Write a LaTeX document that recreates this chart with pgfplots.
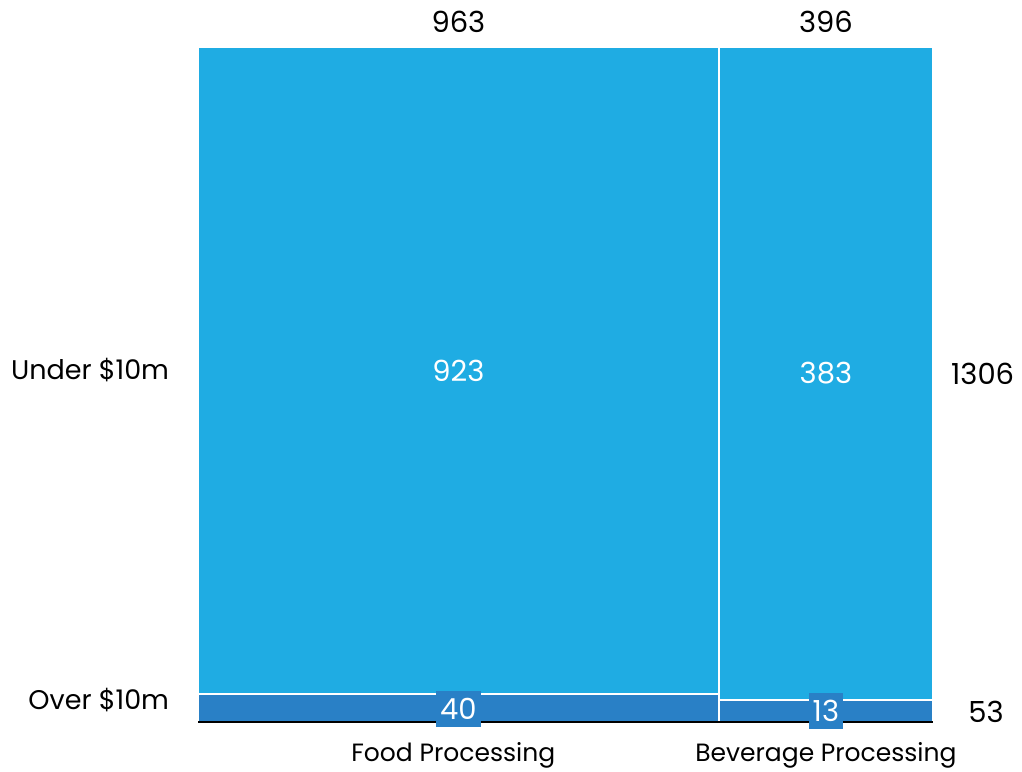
\documentclass[border=0pt]{standalone}
\usepackage{fontspec}
\setmainfont{Poppins}
\usepackage{pgfplots}
\pgfplotsset{compat=1.18}
\definecolor{light}{RGB}{31,172,227}
\definecolor{dark}{RGB}{41,128,198}
\newcommand{\txt}{\fontsize{27pt}{32pt}\selectfont}
\newcommand{\cat}{\fontsize{25pt}{30pt}\selectfont}
\newcommand{\num}{\fontsize{29pt}{34pt}\selectfont}
\begin{document}
\begin{tikzpicture}
\useasboundingbox (0,0) rectangle (1022pt,771pt);
\begin{axis}[
  at={(198pt,49pt)}, anchor=south west,
  scale only axis, width=735pt, height=675pt,
  xmin=0, xmax=1359, ymin=0, ymax=100,
  hide axis, clip=false,
]
% Food Processing (963): over 40, under 923
\addplot[fill=dark, draw=white, line width=1.5pt] coordinates {(0,0) (963,0) (963,4.154) (0,4.154)} -- cycle;
\addplot[fill=light, draw=white, line width=1.5pt] coordinates {(0,4.154) (963,4.154) (963,100) (0,100)} -- cycle;
% Beverage Processing (396): over 13, under 383
\addplot[fill=dark, draw=white, line width=1.5pt] coordinates {(963,0) (1359,0) (1359,3.283) (963,3.283)} -- cycle;
\addplot[fill=light, draw=white, line width=1.5pt] coordinates {(963,3.283) (1359,3.283) (1359,100) (963,100)} -- cycle;
\draw[black, line width=1.2pt] (axis cs:0,0) -- (axis cs:1359,0);
% value labels
\node[white, font=\num] at (axis cs:481.5,52.08) {923};
\node[white, font=\num] at (axis cs:1161,51.64) {383};
\node[white, font=\num, fill=dark, inner xsep=4pt, minimum height=36pt, inner ysep=0pt] at (axis cs:481.5,2.0) {40};
\node[white, font=\num, fill=dark, inner xsep=4pt, minimum height=36pt, inner ysep=0pt] at (axis cs:1161,1.6) {13};
% totals
\node[font=\num] at (axis cs:481.5,103.7) {963};
\node[font=\num] at (axis cs:1161,103.7) {396};
\node[font=\num, anchor=west] at (axis cs:1386,51.64) {1306};
\node[font=\num, anchor=west] at (axis cs:1418,1.5) {53};
% row labels
\node[font=\txt, anchor=east] at (axis cs:-47,52.08) {Under \$10m};
\node[font=\txt, anchor=east] at (axis cs:-47,3.3) {Over \$10m};
% category labels
\node[font=\cat, anchor=base] at (axis cs:472,-5.9) {Food Processing};
\node[font=\cat, anchor=base] at (axis cs:1161,-5.9) {Beverage Processing};
\end{axis}
\end{tikzpicture}
\end{document}
